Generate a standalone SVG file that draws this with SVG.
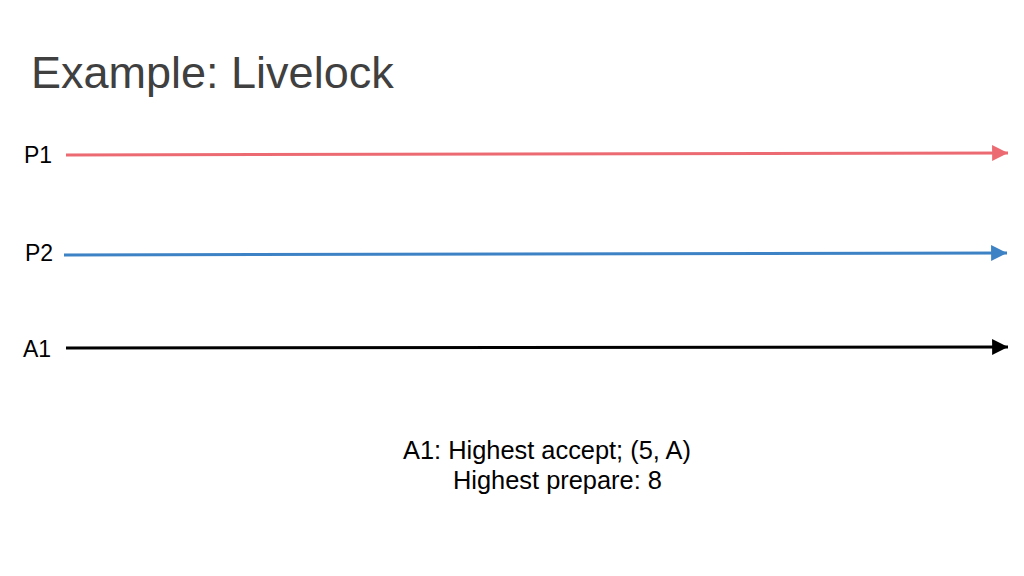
<svg xmlns="http://www.w3.org/2000/svg" width="1024" height="576" viewBox="0 0 1024 576">
<style>
.lbl{font-family:"Liberation Sans",Arial,sans-serif;font-size:23px;fill:#000}
.title{font-family:"Liberation Sans",Arial,sans-serif;font-size:45px;fill:#404040}
.note{font-family:"Liberation Sans",Arial,sans-serif;font-size:25.4px;fill:#000}
.ln{stroke-width:3;fill:none}
</style>
<defs>
<marker id="arR" viewBox="0 0 10 10" refX="10" refY="5" markerWidth="5.3" markerHeight="5.3" orient="auto" markerUnits="strokeWidth"><path d="M0,0 L10,5 L0,10 z" fill="#ec6b73"/></marker>
<marker id="arB" viewBox="0 0 10 10" refX="10" refY="5" markerWidth="5.3" markerHeight="5.3" orient="auto" markerUnits="strokeWidth"><path d="M0,0 L10,5 L0,10 z" fill="#3d82c4"/></marker>
<marker id="arK" viewBox="0 0 10 10" refX="10" refY="5" markerWidth="5.3" markerHeight="5.3" orient="auto" markerUnits="strokeWidth"><path d="M0,0 L10,5 L0,10 z" fill="#000"/></marker>
</defs>
<rect width="1024" height="576" fill="#fff"/>
<text class="title" x="31" y="88">Example: Livelock</text>
<g id="P1"><text class="lbl" x="24" y="163">P1</text></g>
<g id="P2"><text class="lbl" x="25" y="261">P2</text></g>
<g id="A1"><text class="lbl" x="23" y="357">A1</text></g>
<g id="connectors">
<line class="ln" x1="66" y1="155" x2="1008" y2="153" stroke="#ec6b73" marker-end="url(#arR)"/>
<line class="ln" x1="64" y1="255" x2="1007" y2="253" stroke="#3d82c4" marker-end="url(#arB)"/>
<line class="ln" x1="66" y1="348" x2="1008" y2="347" stroke="#000" marker-end="url(#arK)"/>
</g>
<g id="note">
<text class="note" x="403" y="459">A1: Highest accept; (5, A)</text>
<text class="note" x="453" y="489">Highest prepare: 8</text>
</g>
</svg>
